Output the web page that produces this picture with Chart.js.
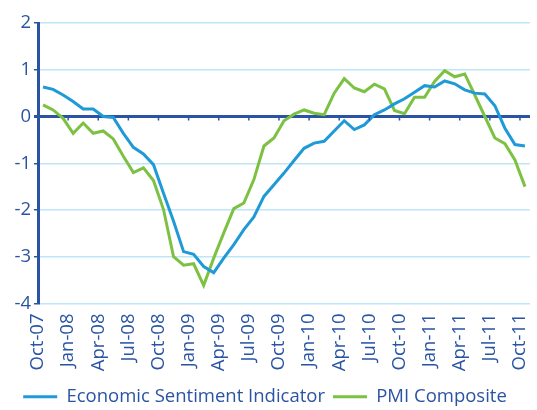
<!DOCTYPE html>
<html>
<head>
<meta charset="utf-8">
<script src="https://cdn.jsdelivr.net/npm/chart.js@4.4.0/dist/chart.umd.min.js"></script>
<style>
  html, body { margin: 0; padding: 0; background: #fff; }
  #wrap { width: 537px; height: 410px; }
</style>
</head>
<body>
<div id="wrap"><canvas id="chart"></canvas></div>
<script>
const months = [
    'Oct-07', 'Nov-07', 'Dec-07', 'Jan-08', 'Feb-08', 'Mar-08', 'Apr-08', 'May-08', 'Jun-08',
    'Jul-08', 'Aug-08', 'Sep-08', 'Oct-08', 'Nov-08', 'Dec-08', 'Jan-09', 'Feb-09', 'Mar-09',
    'Apr-09', 'May-09', 'Jun-09', 'Jul-09', 'Aug-09', 'Sep-09', 'Oct-09', 'Nov-09', 'Dec-09',
    'Jan-10', 'Feb-10', 'Mar-10', 'Apr-10', 'May-10', 'Jun-10', 'Jul-10', 'Aug-10', 'Sep-10',
    'Oct-10', 'Nov-10', 'Dec-10', 'Jan-11', 'Feb-11', 'Mar-11', 'Apr-11', 'May-11', 'Jun-11',
    'Jul-11', 'Aug-11', 'Sep-11', 'Oct-11'
];

const esi = [
    0.63, 0.58, 0.46, 0.32, 0.16, 0.16, 0.00, -0.02, -0.36,
    -0.66, -0.80, -1.03, -1.64, -2.24, -2.89, -2.95, -3.21, -3.34,
    -3.03, -2.74, -2.42, -2.15, -1.71, -1.46, -1.21, -0.94, -0.68,
    -0.57, -0.53, -0.31, -0.09, -0.28, -0.18, 0.04, 0.14, 0.27,
    0.38, 0.52, 0.66, 0.63, 0.76, 0.70, 0.57, 0.50, 0.48,
    0.23, -0.25, -0.60, -0.63
];

const pmi = [
    0.25, 0.14, -0.04, -0.36, -0.14, -0.36, -0.31, -0.48, -0.85,
    -1.20, -1.10, -1.37, -1.99, -3.00, -3.18, -3.15, -3.61, -3.03,
    -2.49, -1.97, -1.85, -1.35, -0.63, -0.46, -0.09, 0.05, 0.14,
    0.07, 0.04, 0.50, 0.81, 0.61, 0.53, 0.69, 0.59, 0.13,
    0.06, 0.41, 0.41, 0.75, 0.98, 0.85, 0.91, 0.46, 0.00,
    -0.46, -0.58, -0.93, -1.50
];

const yTicks = [2, 1, 0, -1, -2, -3, -4];

const navy = '#2a54a3';
const blue = '#1f9ad7';
const green = '#7dc143';
const gridBlue = '#bfe6f7';
const font = 'Open Sans';

// petites graduations sur la ligne zéro, tous les trimestres
const zeroTicks = {
    id: 'zeroTicks',
    afterDatasetsDraw(chart) {
        const x = chart.scales.x;
        const y = chart.scales.y;
        const ctx = chart.ctx;
        const y0 = y.getPixelForValue(0);
        const half = (x.getPixelForValue(1) - x.getPixelForValue(0)) / 2;
        ctx.save();
        ctx.strokeStyle = navy;
        ctx.lineWidth = 1.5;
        for (let i = 3; i < months.length; i += 3) {
            const px = x.getPixelForValue(i) - half;
            ctx.beginPath();
            ctx.moveTo(px, y0);
            ctx.lineTo(px, y0 + 4);
            ctx.stroke();
        }
        ctx.restore();
    }
};

new Chart(document.getElementById('chart').getContext('2d'), {
    type: 'line',
    data: {
        labels: months,
        datasets: [
            {
                label: 'Economic Sentiment Indicator',
                data: esi,
                borderColor: blue,
                backgroundColor: blue,
                borderWidth: 3,
                pointRadius: 0,
                tension: 0
            },
            {
                label: 'PMI Composite',
                data: pmi,
                borderColor: green,
                backgroundColor: green,
                borderWidth: 3,
                pointRadius: 0,
                tension: 0
            }
        ]
    },
    options: {
        responsive: true,
        maintainAspectRatio: false,
        animation: false,
        layout: {
            padding: { top: 23, right: 7, left: 0, bottom: -6 }
        },
        plugins: {
            tooltip: { enabled: false },
            legend: {
                position: 'bottom',
                labels: {
                    color: navy,
                    font: { family: font, size: 18.5 },
                    boxWidth: 34,
                    boxHeight: 3,
                    padding: 8,
                    generateLabels: chart => {
                        const items = Chart.defaults.plugins.legend.labels.generateLabels(chart);
                        items.forEach(it => { it.lineWidth = 0; });
                        return items;
                    }
                }
            }
        },
        scales: {
            x: {
                offset: true,
                grid: { display: false },
                border: { display: false },
                ticks: {
                    color: navy,
                    font: { family: font, size: 18.5 },
                    autoSkip: false,
                    maxRotation: 90,
                    minRotation: 90,
                    labelOffset: -5,
                    padding: 2,
                    callback: (v, i) => (i % 3 === 0 ? months[i] : null)
                },
                afterFit: scale => {
                    scale.height = 76;
                    scale.paddingLeft = 0;
                    scale.paddingRight = 0;
                }
            },
            y: {
                min: -4,
                max: 2,
                afterBuildTicks: scale => {
                    scale.ticks = yTicks.map(v => ({ value: v }));
                },
                grid: {
                    color: ctx => (ctx.tick && ctx.tick.value === 0 ? navy : gridBlue),
                    lineWidth: ctx => (ctx.tick && ctx.tick.value === 0 ? 3 : 1.5),
                    tickColor: navy,
                    tickLength: 4
                },
                border: { display: true, color: navy, width: 3 },
                ticks: {
                    color: navy,
                    font: { family: font, size: 18.5 },
                    padding: 3
                },
                afterFit: scale => {
                    scale.width = 38;
                    scale.paddingTop = 0;
                    scale.paddingBottom = 0;
                }
            }
        }
    },
    plugins: [zeroTicks]
});
</script>
</body>
</html>
